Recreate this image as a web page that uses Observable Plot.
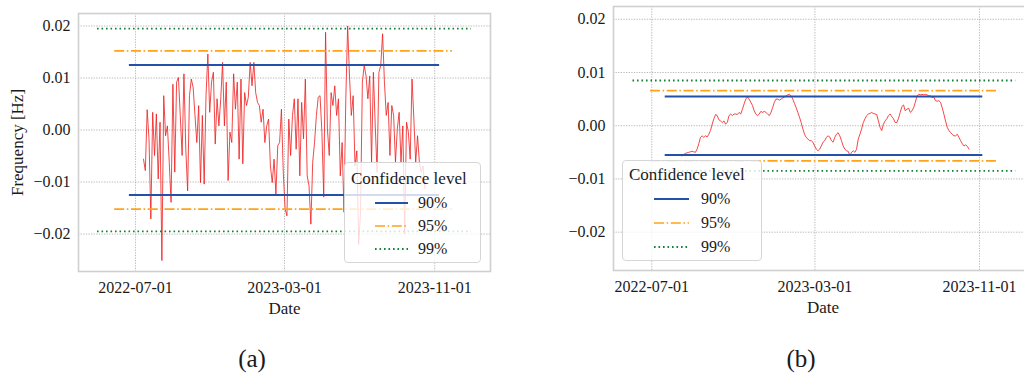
<!DOCTYPE html>
<html>
<head>
<meta charset="utf-8">
<script src="https://cdn.jsdelivr.net/npm/d3@7"></script>
<script src="https://cdn.jsdelivr.net/npm/@observablehq/plot@0.6"></script>
<style>
  html, body { margin: 0; padding: 0; background: #fff; }
  body { width: 1024px; height: 374px; overflow: hidden; position: relative;
         font-family: "Liberation Serif", "DejaVu Serif", serif; color: #1a1a1a; }
  .panel { position: absolute; top: 0; height: 320px; overflow: hidden; }
  .panel svg { max-width: none !important; }
  .legend { position: absolute; background: rgba(255,255,255,0.8); border: 1px solid #d6d6d6;
            border-radius: 4px; box-sizing: border-box; }
  .legend .title { position: absolute; font-size: 17px; white-space: nowrap; line-height: 1; transform: translateY(-50%); }
  .legend .lab { position: absolute; font-size: 16px; white-space: nowrap; line-height: 1; transform: translateY(-50%); }
  .legend svg { position: absolute; overflow: visible; }
  .caption { position: absolute; font-size: 25px; line-height: 1; transform: translate(-50%, -50%); }
</style>
</head>
<body>
<div id="pa" class="panel" style="left:0;width:512px"></div>
<div id="pb" class="panel" style="left:512px;width:512px"></div>
<div class="caption" style="left:252px;top:358px">(a)</div>
<div class="caption" style="left:801px;top:358px">(b)</div>
<script>
// Frequency deviation: raw series (a) every 3 days, smoothed series (b) every 60 hours
const rawStart = "2022-07-14";
const rawStepHours = 72;
const rawValues = [
  -0.0056, -0.0078, 0.0039, -0.0017, -0.0171, 0.0034, -0.0049, 0.0031, -0.0094, 0.0015,
  -0.0251, 0.0066, -0.0011, 0.0008, -0.0062, -0.0139, 0.0088, -0.0081, 0.0092, 0.0101,
  0.0028, -0.0049, 0.0108, -0.0037, -0.0117, 0.0066, 0.0098, 0.0082, 0.0028, -0.0024,
  0.0047, -0.0101, 0.0028, -0.0104, 0.0066, 0.0146, 0.0034, 0.0092, 0.0111,
  -0.0027, 0.0060, 0.0008, 0.0060, 0.0130, 0.0008, 0.0092, -0.0097, -0.0004, -0.0024,
  0.0108, 0.0040, 0.0092, -0.0056, 0.0098, -0.0065, 0.0072, 0.0047, 0.0063, 0.0130,
  0.0085, 0.0130, 0.0072, 0.0053, 0.0047, 0.0015, 0.0040, -0.0024, 0.0008, 0.0021,
  -0.0069, -0.0101, -0.0056, -0.0123, -0.0030, -0.0024, 0.0040, -0.0081, -0.0152, -0.0165,
  0.0021,
  -0.0049, 0.0028, 0.0060, -0.0037, 0.0060, -0.0088, 0.0053, -0.0017, 0.0098, -0.0088,
  -0.0107, -0.0181, -0.0062, -0.0024, 0.0028, 0.0063, 0.0066, -0.0004, -0.0129, 0.0188,
  0.0002, -0.0049, 0.0072, 0.0047, 0.0085, 0.0028, 0.0060, -0.0088, -0.0024, -0.0158,
  0.0060, 0.0200, 0.0104, 0.0028, 0.0066, -0.0069, -0.0040, -0.0220, -0.0158, 0.0092,
  0.0124,
  0.0104, 0.0060, 0.0104, -0.0062, 0.0111, 0.0008, -0.0081, 0.0111, 0.0124, 0.0185,
  0.0092, 0.0028, 0.0053, -0.0049, 0.0047, 0.0028, -0.0062, 0.0002, 0.0034, -0.0062,
  0.0008, -0.0200, 0.0015, -0.0004, -0.0056, 0.0098, 0.0021, -0.0062, -0.0011, -0.0062,
  -0.0081, -0.0069, -0.0113
];

const smoothStart = "2022-08-15";
const smoothStepHours = 60;
const smoothValues = [
  -0.0057, -0.0054, -0.0052, -0.0051, -0.0050, -0.0049, -0.0048, -0.0049, -0.0050, -0.0044,
  -0.0034, -0.0022, -0.0019, -0.0022, -0.0019, -0.0021, -0.0016, -0.0009, 0.0003, 0.0013,
  0.0021, 0.0019, 0.0011, 0.0009, 0.0006, 0.0009, 0.0003, 0.0006, 0.0019, 0.0022,
  0.0019, 0.0022, 0.0022, 0.0021, 0.0025, 0.0022, 0.0031, 0.0041, 0.0050, 0.0054,
  0.0050, 0.0044, 0.0038, 0.0028, 0.0022, 0.0019, 0.0022, 0.0027, 0.0025, 0.0027,
  0.0025, 0.0022, 0.0019, 0.0025, 0.0034, 0.0044, 0.0050, 0.0050, 0.0048, 0.0050,
  0.0052, 0.0054, 0.0056, 0.0058, 0.0059, 0.0056, 0.0050, 0.0042, 0.0034, 0.0025,
  0.0016, 0.0006, -0.0006, -0.0016, -0.0022, -0.0025, -0.0028, -0.0028, -0.0031, -0.0038,
  -0.0044, -0.0047, -0.0044, -0.0038, -0.0031, -0.0028,
  -0.0022, -0.0019, -0.0021, -0.0028, -0.0031, -0.0022, -0.0016, -0.0013, -0.0019, -0.0028,
  -0.0038, -0.0044, -0.0047, -0.0048, -0.0056, -0.0050, -0.0047, -0.0050, -0.0044, -0.0025,
  -0.0016, -0.0006, 0.0006, 0.0013, 0.0019, 0.0022, 0.0023, 0.0025, 0.0023, 0.0022,
  0.0021, 0.0009, -0.0003, -0.0009, 0.0003, 0.0009, 0.0013, 0.0019, 0.0022, 0.0017,
  0.0013, 0.0006, 0.0006, 0.0014, 0.0025, 0.0036, 0.0039, 0.0028, 0.0031, 0.0033,
  0.0025, 0.0028, 0.0034, 0.0044, 0.0056, 0.0059, 0.0058, 0.0059, 0.0058, 0.0059,
  0.0058, 0.0056, 0.0056, 0.0053, 0.0054, 0.0047, 0.0046, 0.0047, 0.0044, 0.0034,
  0.0022, 0.0009, -0.0003, -0.0009, -0.0013, -0.0016, -0.0019, -0.0019, -0.0016, -0.0022,
  -0.0028, -0.0034, -0.0038, -0.0036, -0.0039, -0.0044
];

// Confidence bands: symmetric bounds and the date span each band is drawn over
const levels = ["90%", "95%", "99%"];
const boundsA = [0.0125, 0.0152, 0.0195];
const spanFromA = ["2022-06-21", "2022-05-28", "2022-04-30"];
const spanToA = ["2023-11-09", "2023-11-30", "2023-12-31"];
const boundsB = [0.0055, 0.0066, 0.0085];
const spanFromB = ["2022-07-21", "2022-06-29", "2022-06-03"];
const spanToB = ["2023-11-06", "2023-11-27", "2023-12-25"];

// Axes
const xTicks = ["2022-07-01", "2023-03-01", "2023-11-01"];
const yTicks = [-0.02, -0.01, 0.00, 0.01, 0.02];
const yDomain = [-0.0272, 0.0224];
const xDomainA = ["2022-03-30", "2024-01-31"];
const xDomainB = ["2022-05-05", "2024-01-19"];
const yLabel = "Frequency [Hz]";
const xLabel = "Date";
const legendTitle = "Confidence level";

const SERIF = '"Liberation Serif", "DejaVu Serif", serif';
const INK = "#1a1a1a";
const parse = d3.utcParse("%Y-%m-%d");
const fmtDate = d3.utcFormat("%Y-%m-%d");
const fmtY = d3.format(".2f");

const levelStyle = {
  "90%": {stroke: "#2350a8", strokeWidth: 2, dash: null},
  "95%": {stroke: "#ffa31a", strokeWidth: 1.7, dash: "10,2.6,1.6,2.6"},
  "99%": {stroke: "#17803a", strokeWidth: 1.8, dash: "1.6,2.9"}
};

function series(start, stepHours, values) {
  const t0 = parse(start);
  return values.map((v, i) => ({date: d3.utcHour.offset(t0, i * stepHours), value: v}));
}

function bandRules(bounds, from, to) {
  return levels.map((lev, i) => {
    const s = levelStyle[lev];
    const rows = [bounds[i], -bounds[i]].map(b => ({y: b, x1: parse(from[i]), x2: parse(to[i])}));
    return Plot.ruleY(rows, {
      y: "y", x1: "x1", x2: "x2",
      stroke: s.stroke, strokeWidth: s.strokeWidth, strokeDasharray: s.dash
    });
  });
}

function panel({width, marginLeft, marginRight, marginTop, marginBottom, xDomain, data, bounds, from, to, withYLabel, xLabelDy}) {
  const ticks = xTicks.map(parse);
  const marks = [
    Plot.gridX(ticks, {stroke: "#a8a8a8", strokeOpacity: 1, strokeWidth: 0.8, strokeDasharray: "1.3,1.3"}),
    Plot.gridY(yTicks, {stroke: "#a8a8a8", strokeOpacity: 1, strokeWidth: 0.8, strokeDasharray: "1.3,1.3"}),
    Plot.frame({stroke: "#cfcfcf", strokeWidth: 1.6}),
    Plot.line(data, {x: "date", y: "value", stroke: "#f01c1c", strokeWidth: 0.9, strokeOpacity: 0.9}),
    ...bandRules(bounds, from, to),
    Plot.axisX(ticks, {tickSize: 0, tickPadding: 10, tickFormat: fmtDate, label: null,
                       fill: INK, fontFamily: SERIF, fontSize: 16}),
    Plot.axisY(yTicks, {tickSize: 0, tickPadding: 8, tickFormat: fmtY, label: null,
                        fill: INK, fontFamily: SERIF, fontSize: 16}),
    Plot.text([xLabel], {frameAnchor: "bottom", lineAnchor: "middle", textAnchor: "middle",
                         dy: xLabelDy, fontSize: 17, fontFamily: SERIF, fill: INK})
  ];
  if (withYLabel) {
    marks.push(Plot.text([yLabel], {frameAnchor: "left", lineAnchor: "middle", textAnchor: "middle",
                                    dx: -61, rotate: -90, fontSize: 17, fontFamily: SERIF, fill: INK}));
  }
  return Plot.plot({
    width, height: 320,
    marginLeft, marginRight, marginTop, marginBottom,
    style: {fontFamily: SERIF, fontSize: "16px", background: "transparent", maxWidth: "none"},
    x: {type: "utc", domain: xDomain.map(parse)},
    y: {domain: yDomain},
    marks
  });
}

document.getElementById("pa").append(panel({
  width: 512, marginLeft: 78, marginRight: 22, marginTop: 13, marginBottom: 49,
  xDomain: xDomainA, data: series(rawStart, rawStepHours, rawValues),
  bounds: boundsA, from: spanFromA, to: spanToA, withYLabel: true, xLabelDy: 37
}));

document.getElementById("pb").append(panel({
  width: 520, marginLeft: 101, marginRight: 0, marginTop: 6, marginBottom: 50,
  xDomain: xDomainB, data: series(smoothStart, smoothStepHours, smoothValues),
  bounds: boundsB, from: spanFromB, to: spanToB, withYLabel: false, xLabelDy: 37
}));

// Legend boxes drawn over the plots with a translucent background
function legend({left, top, width, height, titleX, titleY, rowY, sampleX0, sampleX1, labelX}) {
  const box = document.createElement("div");
  box.className = "legend";
  Object.assign(box.style, {left: left + "px", top: top + "px", width: width + "px", height: height + "px"});
  const t = document.createElement("div");
  t.className = "title";
  t.textContent = legendTitle;
  Object.assign(t.style, {left: titleX + "px", top: titleY + "px"});
  box.append(t);
  levels.forEach((lev, i) => {
    const s = levelStyle[lev];
    const svg = d3.create("svg")
      .attr("width", sampleX1 - sampleX0).attr("height", 4)
      .style("left", sampleX0 + "px").style("top", (rowY[i] - 2) + "px");
    svg.append("line")
      .attr("x1", 0).attr("x2", sampleX1 - sampleX0).attr("y1", 2).attr("y2", 2)
      .attr("stroke", s.stroke).attr("stroke-width", s.strokeWidth)
      .attr("stroke-dasharray", s.dash);
    box.append(svg.node());
    const l = document.createElement("div");
    l.className = "lab";
    l.textContent = lev;
    Object.assign(l.style, {left: labelX + "px", top: rowY[i] + "px"});
    box.append(l);
  });
  document.body.append(box);
}

legend({left: 344, top: 162, width: 137, height: 101, titleX: 6, titleY: 15,
        rowY: [40, 63, 86], sampleX0: 30, sampleX1: 63, labelX: 73});
legend({left: 622, top: 160, width: 140, height: 101, titleX: 6, titleY: 13,
        rowY: [38, 61.5, 86], sampleX0: 31, sampleX1: 66, labelX: 78});
</script>
</body>
</html>
